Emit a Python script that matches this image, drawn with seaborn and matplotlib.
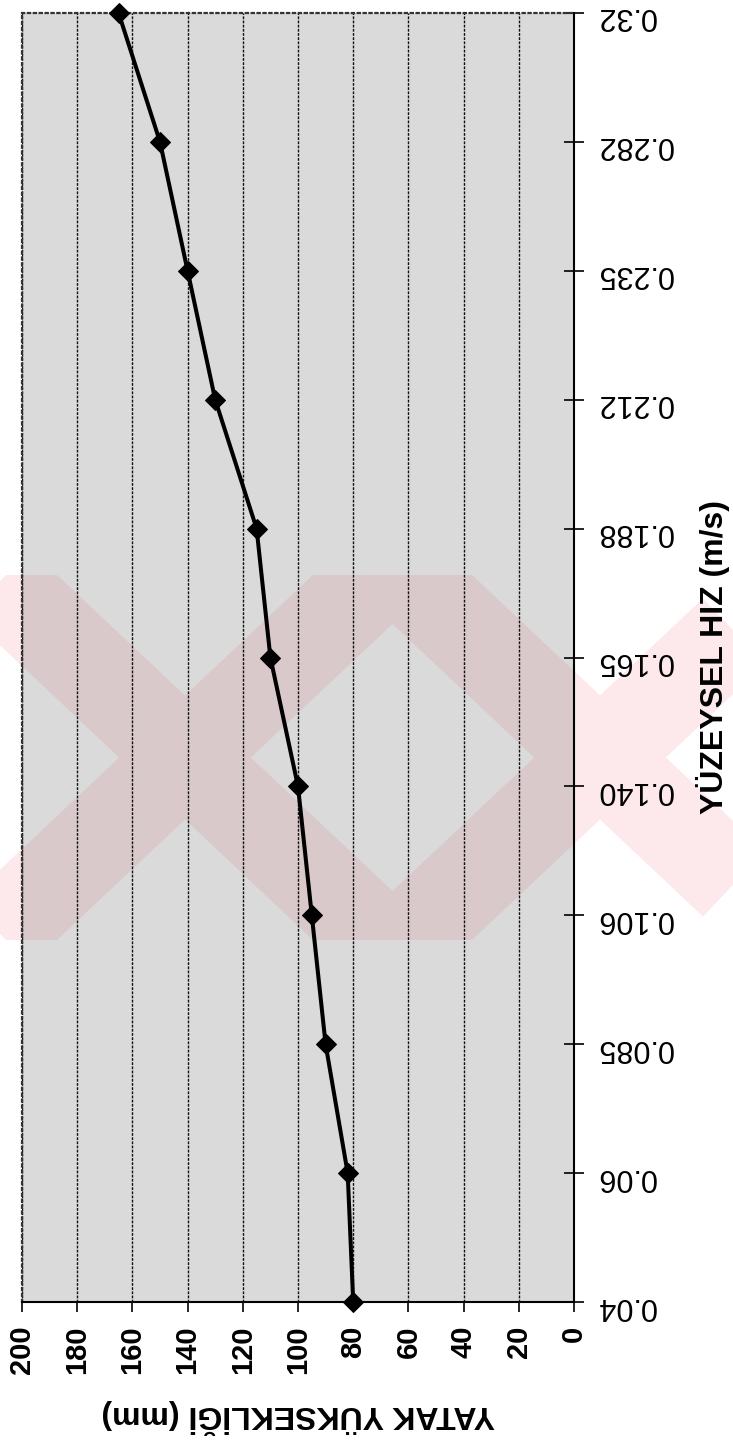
import pandas as pd
import matplotlib
matplotlib.use("Agg")
import matplotlib.pyplot as plt
import seaborn as sns
from matplotlib.patches import Rectangle

# Veri: yüzeysel hız (kategori) ve yatak yüksekliği (mm)
hiz_etiketleri = ["0.04", "0.06", "0.085", "0.106", "0.140", "0.165",
                  "0.188", "0.212", "0.235", "0.282", "0.32"]
yatak_yuksekligi = [80, 82, 90, 95, 100, 110, 115, 130, 140, 150, 165]
yukseklik_tikleri = [0, 20, 40, 60, 80, 100, 120, 140, 160, 180, 200]

sns.set_theme(style="white", rc={'text.color': 'black',
                                 'axes.labelcolor': 'black',
                                 'xtick.color': 'black',
                                 'ytick.color': 'black'})
plt.rcParams['font.family'] = ['Liberation Sans', 'DejaVu Sans']

W, H = 733, 1447
fig = plt.figure(figsize=(W / 100, H / 100), dpi=100)
fig.patch.set_facecolor('white')

# arka plandaki soluk pembe filigran
bg = fig.add_axes([0, 0, 1, 1], zorder=0)
bg.set_xlim(0, W)
bg.set_ylim(H, 0)
bg.axis('off')
bant = Rectangle((0, 575), W, 365, facecolor='none', edgecolor='none')
bg.add_patch(bant)
for cx in (185, 600):
    for sgn in (1, -1):
        ln, = bg.plot([cx - sgn * 215, cx + sgn * 215], [555, 960],
                      color='#fde8eb', lw=65, solid_capstyle='butt')
        ln.set_clip_path(bant)

ax = fig.add_axes([22 / W, 1 - 1302 / H, 552 / W, 1289 / H], zorder=1)
ax.set_facecolor((0.45, 0.45, 0.45, 0.26))

df = pd.DataFrame({'yukseklik': yatak_yuksekligi,
                   'sira': list(range(len(hiz_etiketleri)))})
sns.lineplot(data=df, x='yukseklik', y='sira', orient='y', sort=False,
             estimator=None, color='black', lw=2.9, marker='D', markersize=10,
             markeredgecolor='black', clip_on=False, zorder=5, ax=ax)

ax.set_xlim(200, 0)
ax.set_ylim(0, len(hiz_etiketleri) - 1)

# dikey kılavuz çizgileri
ax.set_xticks(yukseklik_tikleri)
ax.xaxis.grid(True, color='#111111', lw=1.0, ls=(0, (2, 1)))
ax.yaxis.grid(False)

for s in ('right', 'bottom'):
    ax.spines[s].set_color('black')
    ax.spines[s].set_linewidth(1.5)
for s in ('top', 'left'):
    ax.spines[s].set_color('#333333')
    ax.spines[s].set_linewidth(1.6)
    ax.spines[s].set_linestyle(':')

ax.set_xticklabels([str(v) for v in yukseklik_tikleri], rotation=90,
                   fontsize=21, fontweight='bold')
ax.tick_params(axis='x', bottom=True, direction='out', length=7, width=1.2,
               pad=10, color='black', labelcolor='black')

ax.yaxis.tick_right()
ax.yaxis.set_label_position('right')
ax.set_yticks(range(len(hiz_etiketleri)))
ax.set_yticklabels(hiz_etiketleri, rotation=180, fontsize=22)
ax.tick_params(axis='y', right=True, direction='inout', length=14, width=1.2,
               pad=9, color='black', labelcolor='black')

ax.set_xlabel("YATAK YÜKSEKLİĞİ (mm)", rotation=180, fontsize=23,
              fontweight='bold', labelpad=18, color='black')
ax.set_ylabel("YÜZEYSEL HIZ (m/s)", rotation=90, fontsize=23,
              fontweight='bold', labelpad=17, color='black')

fig.savefig('out.png', dpi=100)
plt.close(fig)
